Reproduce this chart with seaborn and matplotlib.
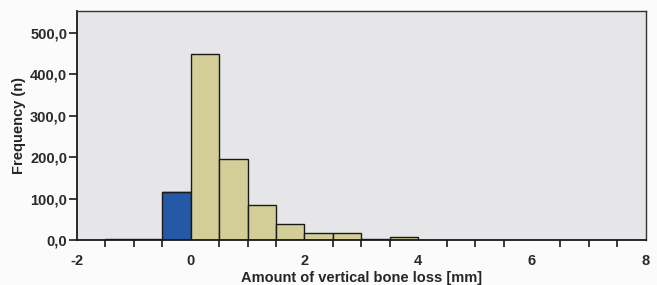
import matplotlib
matplotlib.use("Agg")
import matplotlib.pyplot as plt
import matplotlib.ticker as mticker
import numpy as np
import pandas as pd
import seaborn as sns

# bin edges (width 0.5 mm) and counts
bin_edges = [-1.5, -1.0, -0.5, 0.0, 0.5, 1.0, 1.5, 2.0, 2.5, 3.0, 3.5, 4.0]
counts = [2, 2, 115, 450, 196, 85, 39, 18, 16, 2, 6]
group = ["loss", "loss", "gain", "loss", "loss", "loss", "loss", "loss", "loss", "loss", "loss"]

centers = [(a + b) / 2 for a, b in zip(bin_edges[:-1], bin_edges[1:])]
df = pd.DataFrame({"x": centers, "n": counts, "group": group})

sns.set_style("white")
plt.rcParams["font.family"] = ["Liberation Sans", "DejaVu Sans"]
plt.rcParams["axes.unicode_minus"] = False

fig = plt.figure(figsize=(6.57, 2.85), dpi=100)
fig.patch.set_facecolor("#fbfbfc")
ax = fig.add_axes([0.117, 0.158, 0.866, 0.803])
ax.set_facecolor("#e6e6e8")

sns.histplot(data=df, x="x", weights="n", hue="group", bins=bin_edges,
             multiple="stack", palette={"loss": "#d3ce98", "gain": "#2459a8"},
             alpha=1, edgecolor="#1a1a1a", linewidth=1.0, legend=False, ax=ax)

ax.set_xlim(-2, 8)
ax.set_ylim(0, 553)
ax.set_yticks([0, 100, 200, 300, 400, 500])
ax.yaxis.set_major_formatter(mticker.FuncFormatter(lambda v, p: f"{v:.1f}".replace(".", ",")))
ax.set_xticks([-2, 0, 2, 4, 6, 8])
ax.xaxis.set_major_formatter(mticker.FuncFormatter(lambda v, p: f"{v:.0f}"))
ax.xaxis.set_minor_locator(mticker.MultipleLocator(0.5))
ax.tick_params(axis="x", which="major", direction="out", length=8, width=1.2, color="#1a1a1a", pad=2)
ax.tick_params(axis="x", which="minor", direction="out", length=5, width=1.2, color="#1a1a1a", bottom=True)
ax.tick_params(axis="y", which="major", direction="out", length=6, width=1.2, color="#1a1a1a", pad=1, left=True)
for lab in ax.get_xticklabels() + ax.get_yticklabels():
    lab.set_fontsize(10.5)
    lab.set_fontweight("bold")
    lab.set_color("#2a2a2a")

for s in ax.spines.values():
    s.set_visible(True)
    s.set_color("#333333")
    s.set_linewidth(1.0)
ax.spines["left"].set_color("#1a1a1a")
ax.spines["bottom"].set_color("#1a1a1a")
ax.spines["left"].set_linewidth(1.3)
ax.spines["bottom"].set_linewidth(1.3)

ax.set_xlabel("Amount of vertical bone loss [mm]", fontsize=10.5, fontweight="bold", labelpad=2)
ax.set_ylabel("Frequency (n)", fontsize=10.5, fontweight="bold", labelpad=3)

fig.savefig("out.png", dpi=100, facecolor=fig.get_facecolor())
